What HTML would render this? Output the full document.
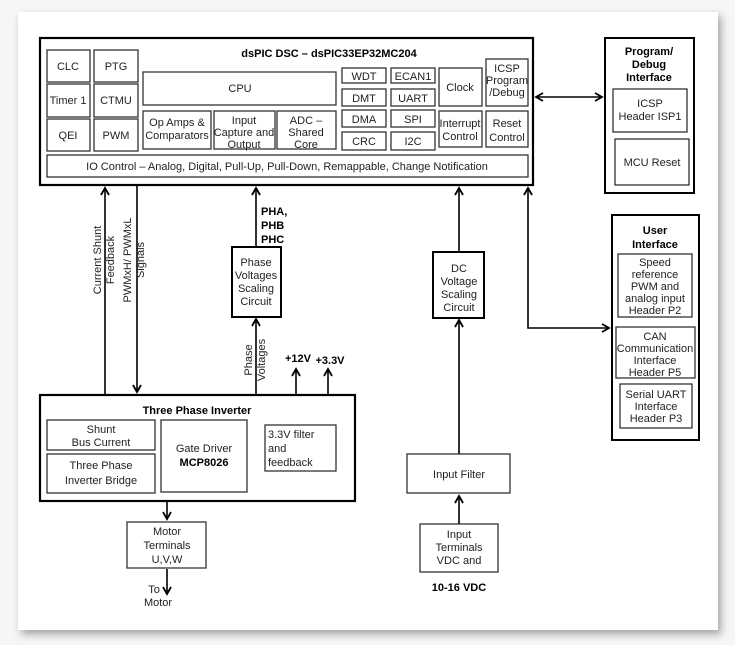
<!DOCTYPE html>
<html><head><meta charset="utf-8"><style>
html,body{margin:0;padding:0;background:#f6f6f6;width:735px;height:645px;overflow:hidden}
.p{position:absolute;left:18px;top:12px;width:700px;height:618px;background:#fff;box-shadow:3px 4px 8px rgba(0,0,0,.35)}
svg{position:absolute;left:0;top:0}
text{font-family:"Liberation Sans",sans-serif;font-size:11px;fill:#222;text-anchor:middle}
.b{font-weight:bold;fill:#000}
</style></head><body><div class="p"></div>
<svg width="735" height="645" viewBox="0 0 735 645">
<defs><marker id="a" markerWidth="10" markerHeight="10" refX="8" refY="5" orient="auto-start-reverse" markerUnits="userSpaceOnUse"><path d="M1,1 L8,5 L1,9" fill="none" stroke="#000" stroke-width="1.8"/></marker></defs>
<g fill="none" stroke="#333" stroke-width="1.3">
<rect x="40" y="38" width="493" height="147" stroke="#000" stroke-width="2.2"/>
<rect x="47" y="50" width="43" height="32"/><rect x="94" y="50" width="44" height="32"/>
<rect x="47" y="84" width="43" height="33"/><rect x="94" y="84" width="44" height="33"/>
<rect x="47" y="119" width="43" height="32"/><rect x="94" y="119" width="44" height="32"/>
<rect x="143" y="72" width="193" height="33"/>
<rect x="143" y="111" width="68" height="38"/><rect x="214" y="111" width="61" height="38"/><rect x="277" y="111" width="59" height="38"/>
<rect x="342" y="68" width="44" height="15"/><rect x="342" y="89" width="44" height="17"/><rect x="342" y="110" width="44" height="17"/><rect x="342" y="132" width="44" height="18"/>
<rect x="391" y="68" width="44" height="15"/><rect x="391" y="89" width="44" height="17"/><rect x="391" y="110" width="44" height="17"/><rect x="391" y="132" width="44" height="18"/>
<rect x="439" y="68" width="43" height="38"/><rect x="439" y="111" width="43" height="36"/>
<rect x="486" y="59" width="42" height="47"/><rect x="486" y="111" width="42" height="36"/>
<rect x="47" y="155" width="481" height="22"/>
<rect x="605" y="38" width="89" height="155" stroke="#000" stroke-width="2"/>
<rect x="613" y="89" width="74" height="43"/><rect x="615" y="139" width="74" height="46"/>
<rect x="612" y="215" width="87" height="225" stroke="#000" stroke-width="2"/>
<rect x="618" y="254" width="74" height="63"/><rect x="616" y="327" width="79" height="51"/><rect x="620" y="384" width="72" height="44"/>
<rect x="232" y="247" width="49" height="70" stroke="#000" stroke-width="2"/>
<rect x="433" y="252" width="51" height="66" stroke="#000" stroke-width="2"/>
<rect x="40" y="395" width="315" height="106" stroke="#000" stroke-width="2.2"/>
<rect x="47" y="420" width="108" height="30"/><rect x="47" y="454" width="108" height="39"/>
<rect x="161" y="420" width="86" height="72"/><rect x="265" y="425" width="71" height="46"/>
<rect x="127" y="522" width="79" height="46"/>
<rect x="407" y="454" width="103" height="39"/><rect x="420" y="524" width="78" height="48"/>
</g>
<g stroke="#000" stroke-width="1.6" fill="none">
<line x1="536" y1="97" x2="602" y2="97" marker-end="url(#a)" marker-start="url(#a)"/>
<line x1="105" y1="395" x2="105" y2="188" marker-end="url(#a)"/>
<line x1="137" y1="186" x2="137" y2="392" marker-end="url(#a)"/>
<line x1="256" y1="247" x2="256" y2="188" marker-end="url(#a)"/>
<line x1="256" y1="395" x2="256" y2="319" marker-end="url(#a)"/>
<line x1="296" y1="395" x2="296" y2="369" marker-end="url(#a)"/>
<line x1="328" y1="395" x2="328" y2="369" marker-end="url(#a)"/>
<line x1="459" y1="252" x2="459" y2="188" marker-end="url(#a)"/>
<line x1="459" y1="454" x2="459" y2="320" marker-end="url(#a)"/>
<polyline points="528,188 528,328 609,328" marker-end="url(#a)" marker-start="url(#a)"/>
<line x1="167" y1="502" x2="167" y2="519" marker-end="url(#a)"/>
<line x1="167" y1="569" x2="167" y2="594" marker-end="url(#a)"/>
<line x1="459" y1="524" x2="459" y2="496" marker-end="url(#a)"/>
</g>
<text x="329" y="57" class="b" font-size="12.5">dsPIC DSC – dsPIC33EP32MC204</text>
<text x="68" y="70">CLC</text><text x="116" y="70">PTG</text>
<text x="68" y="104">Timer 1</text><text x="116" y="104">CTMU</text>
<text x="68" y="139">QEI</text><text x="116" y="139">PWM</text>
<text x="240" y="92">CPU</text>
<text x="177" y="126" font-size="10">Op Amps &amp;</text><text x="177" y="139" font-size="10">Comparators</text>
<text x="244" y="124" font-size="10">Input</text><text x="244" y="136" font-size="10">Capture and</text><text x="244" y="148" font-size="10">Output</text>
<text x="306" y="124" font-size="10">ADC –</text><text x="306" y="136" font-size="10">Shared</text><text x="306" y="148" font-size="10">Core</text>
<text x="364" y="80">WDT</text><text x="364" y="102">DMT</text><text x="364" y="123">DMA</text><text x="364" y="145">CRC</text>
<text x="413" y="80">ECAN1</text><text x="413" y="102">UART</text><text x="413" y="123">SPI</text><text x="413" y="145">I2C</text>
<text x="460" y="91">Clock</text>
<text x="460" y="127" font-size="9">Interrupt</text><text x="460" y="140" font-size="9">Control</text>
<text x="507" y="72" font-size="9.5">ICSP</text><text x="507" y="84" font-size="9">Program</text><text x="507" y="96" font-size="9.5">/Debug</text>
<text x="507" y="127">Reset</text><text x="507" y="141">Control</text>
<text x="287" y="170">IO Control – Analog, Digital, Pull-Up, Pull-Down, Remappable, Change Notification</text>
<text x="649" y="55" class="b">Program/</text><text x="649" y="68" class="b">Debug</text><text x="649" y="81" class="b">Interface</text>
<text x="650" y="107">ICSP</text><text x="650" y="120">Header ISP1</text>
<text x="652" y="166">MCU Reset</text>
<text x="655" y="234" class="b">User</text><text x="655" y="248" class="b">Interface</text>
<text x="655" y="266" font-size="10.5">Speed</text><text x="655" y="278" font-size="10.5">reference</text><text x="655" y="290" font-size="10.5">PWM and</text><text x="655" y="302" font-size="10.5">analog input</text><text x="655" y="314" font-size="10.5">Header P2</text>
<text x="655" y="340" font-size="10.5">CAN</text><text x="655" y="352" font-size="10.5">Communication</text><text x="655" y="364" font-size="10.5">Interface</text><text x="655" y="376" font-size="10.5">Header P5</text>
<text x="656" y="398" font-size="10.5">Serial UART</text><text x="656" y="410" font-size="10.5">Interface</text><text x="656" y="422" font-size="10.5">Header P3</text>
<g transform="translate(101,260) rotate(-90)"><text x="0" y="0">Current Shunt</text><text x="0" y="13">Feedback</text></g>
<g transform="translate(131,260) rotate(-90)"><text x="0" y="0">PWMxH/ PWMxL</text><text x="0" y="13">Signals</text></g>
<text x="261" y="215" class="b" style="text-anchor:start">PHA,</text><text x="261" y="229" class="b" style="text-anchor:start">PHB</text><text x="261" y="243" class="b" style="text-anchor:start">PHC</text>
<text x="256" y="266" font-size="10">Phase</text><text x="256" y="279" font-size="10">Voltages</text><text x="256" y="292" font-size="10">Scaling</text><text x="256" y="305" font-size="10">Circuit</text>
<g transform="translate(252,360) rotate(-90)"><text x="0" y="0">Phase</text><text x="0" y="13">Voltages</text></g>
<text x="298" y="362" class="b" font-size="10.5">+12V</text><text x="330" y="364" class="b" font-size="10.5">+3.3V</text>
<text x="459" y="272">DC</text><text x="459" y="285">Voltage</text><text x="459" y="298">Scaling</text><text x="459" y="311">Circuit</text>
<text x="197" y="414" class="b" font-size="12">Three Phase Inverter</text>
<text x="101" y="433">Shunt</text><text x="101" y="446">Bus Current</text>
<text x="101" y="469">Three Phase</text><text x="101" y="484">Inverter Bridge</text>
<text x="204" y="452">Gate Driver</text><text x="204" y="466" class="b">MCP8026</text>
<text x="268" y="438" style="text-anchor:start">3.3V filter</text><text x="268" y="452" style="text-anchor:start">and</text><text x="268" y="466" style="text-anchor:start">feedback</text>
<text x="167" y="535">Motor</text><text x="167" y="549">Terminals</text><text x="167" y="563">U,V,W</text>
<text x="154" y="593">To</text><text x="158" y="606">Motor</text>
<text x="459" y="478">Input Filter</text>
<text x="459" y="538">Input</text><text x="459" y="551">Terminals</text><text x="459" y="564">VDC and</text>
<text x="459" y="591" class="b">10-16 VDC</text>
</svg></body></html>
